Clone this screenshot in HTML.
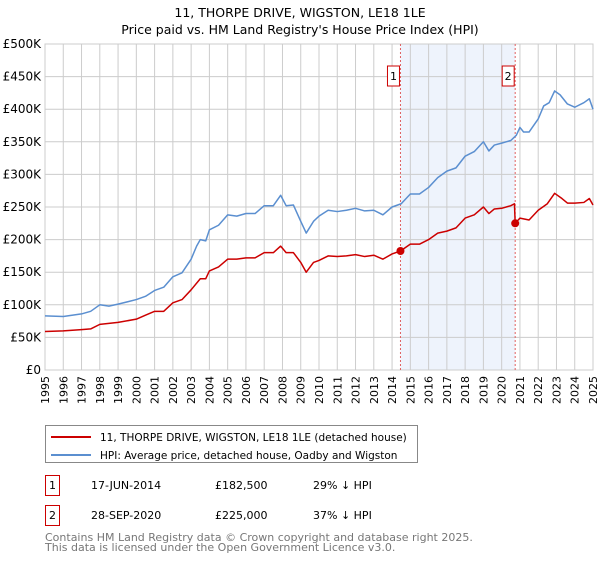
<!DOCTYPE html>
<html><head><meta charset="utf-8"><style>
body{margin:0;background:#fff;font-family:"Liberation Sans","DejaVu Sans",sans-serif}
svg text{font-family:"DejaVu Sans","Liberation Sans",sans-serif}
</style></head><body>
<svg id="c" width="600" height="560" xmlns="http://www.w3.org/2000/svg">
<text x="300" y="17" font-size="12.5" text-anchor="middle">11, THORPE DRIVE, WIGSTON, LE18 1LE</text>
<text x="300" y="34" font-size="12.5" text-anchor="middle">Price paid vs. HM Land Registry's House Price Index (HPI)</text>
<g id="plot"></g>
<g>
<rect x="45.5" y="425.5" width="372" height="37" fill="#fff" stroke="#888"/>
<line x1="51" y1="437" x2="91" y2="437" stroke="#cc0000" stroke-width="2"/>
<text x="100" y="441" font-size="10.5">11, THORPE DRIVE, WIGSTON, LE18 1LE (detached house)</text>
<line x1="51" y1="455" x2="91" y2="455" stroke="#5b8fd0" stroke-width="2"/>
<text x="100" y="459" font-size="10.5">HPI: Average price, detached house, Oadby and Wigston</text>
</g>
<g font-size="11">
<rect x="45.5" y="475.5" width="14" height="20" fill="#fff" stroke="#cc0000"/>
<text x="52.5" y="489" text-anchor="middle">1</text>
<text x="91" y="489">17-JUN-2014</text><text x="215" y="489">£182,500</text><text x="313" y="489">29% ↓ HPI</text>
<rect x="45.5" y="505.5" width="14" height="20" fill="#fff" stroke="#cc0000"/>
<text x="52.5" y="519" text-anchor="middle">2</text>
<text x="91" y="519">28-SEP-2020</text><text x="215" y="519">£225,000</text><text x="313" y="519">37% ↓ HPI</text>
</g>
<text x="45" y="541" font-size="11" fill="#777">Contains HM Land Registry data © Crown copyright and database right 2025.</text>
<text x="45" y="551" font-size="11" fill="#777">This data is licensed under the Open Government Licence v3.0.</text>
</svg>
<script>
const hpiYears=[1995,1996,1997,1997.5,1998,1998.5,1999,2000,2000.5,2001,2001.5,2002,2002.5,2003,2003.3,2003.5,2003.8,2004,2004.5,2005,2005.5,2006,2006.5,2007,2007.5,2007.9,2008.2,2008.6,2009,2009.3,2009.7,2010,2010.5,2011,2011.5,2012,2012.5,2013,2013.5,2014,2014.5,2015,2015.5,2016,2016.5,2017,2017.5,2018,2018.5,2019,2019.3,2019.6,2020,2020.5,2020.8,2021,2021.2,2021.5,2022,2022.3,2022.6,2022.9,2023.2,2023.6,2024,2024.5,2024.8,2025];
const hpiValues=[83,82,86,90,100,98,101,108,113,122,127,143,149,170,190,200,198,215,222,238,236,240,240,252,252,268,252,253,228,210,228,236,245,243,245,248,244,245,238,250,255,270,270,280,295,305,310,328,335,350,336,345,348,352,360,372,365,365,385,405,410,428,422,408,403,410,416,400];
const priceYears=[1995,1996,1997,1997.5,1998,1999,2000,2000.5,2001,2001.5,2002,2002.5,2003,2003.5,2003.8,2004,2004.5,2005,2005.5,2006,2006.5,2007,2007.5,2007.9,2008.2,2008.6,2009,2009.3,2009.7,2010,2010.5,2011,2011.5,2012,2012.5,2013,2013.5,2014,2014.46,2015,2015.5,2016,2016.5,2017,2017.5,2018,2018.5,2019,2019.3,2019.6,2020,2020.5,2020.7,2020.74,2021,2021.5,2022,2022.5,2022.9,2023.3,2023.6,2024,2024.5,2024.8,2025];
const priceValues=[59,60,62,63,70,73,78,84,90,90,103,108,123,140,140,152,158,170,170,172,172,180,180,190,180,180,165,150,165,168,175,174,175,177,174,176,170,178,182.5,193,193,200,210,213,218,233,238,250,240,247,248,252,255,225,233,230,245,255,271,263,256,256,257,263,253];
const saleYears=[2014.46,2020.74];
const saleValues=[182.5,225];
const saleLabels=["1","2"];
const yTicks=[0,50,100,150,200,250,300,350,400,450,500];
const yTickLabels=["£0","£50K","£100K","£150K","£200K","£250K","£300K","£350K","£400K","£450K","£500K"];
const xTicks=[1995,1996,1997,1998,1999,2000,2001,2002,2003,2004,2005,2006,2007,2008,2009,2010,2011,2012,2013,2014,2015,2016,2017,2018,2019,2020,2021,2022,2023,2024,2025];

const X0=45,X1=593,Y0=370,Y1=44;
const xs=y=>X0+(y-1995)/30*(X1-X0);
const ys=v=>Y0-v/500*(Y0-Y1);
const NS="http://www.w3.org/2000/svg";
const g=document.getElementById('plot');
function mk(t,a,p){const e=document.createElementNS(NS,t);for(const k in a)e.setAttribute(k,a[k]);(p||g).appendChild(e);return e;}
const sh=mk('rect',{x:xs(saleYears[0]),y:Y1,width:xs(saleYears[1])-xs(saleYears[0]),height:Y0-Y1,fill:'#eef3fc'});


xTicks.forEach(t=>{
  const l=mk('line',{x1:xs(t),x2:xs(t),y1:Y1,y2:Y0,stroke:'#ccc'});
  
  
  const tx=mk('text',{x:0,y:0,'font-size':11,'text-anchor':'end',transform:`translate(${xs(t)+4},${Y0+6}) rotate(-90)`});
  tx.textContent=t;
  
  
});
yTicks.forEach((t,i)=>{
  const l=mk('line',{x1:X0,x2:X1,y1:ys(t),y2:ys(t),stroke:'#ccc'});
  
  
  const tx=mk('text',{x:X0-4,y:ys(t)+4,'font-size':12,'text-anchor':'end'});
  tx.textContent=yTickLabels[i];
  
  
});
const fr=mk('rect',{x:X0,y:Y1,width:X1-X0,height:Y0-Y1,fill:'none',stroke:'#ccc'});


saleYears.forEach((y,i)=>{
  const l=mk('line',{x1:xs(y),x2:xs(y),y1:Y1,y2:Y0,stroke:'#e06060','stroke-dasharray':'2,2'});
  
  
  const b=mk('rect',{x:xs(y)-13,y:66,width:12,height:20,fill:'#fff',stroke:'#cc0000'});
  
  
  const t=mk('text',{x:xs(y)-7,y:80,'font-size':11,'text-anchor':'middle'});
  t.textContent=saleLabels[i];
  
  
});
function line(xa,va,col,name){
  const p=mk('polyline',{points:xa.map((x,i)=>xs(x)+','+ys(va[i])).join(' '),fill:'none',stroke:col,'stroke-width':1.5,'stroke-linejoin':'round'});
  
  
}
line(hpiYears,hpiValues,'#5b8fd0','hpi-line');
line(priceYears,priceValues,'#cc0000','price-line');
saleYears.forEach((y,i)=>{
  const c=mk('circle',{cx:xs(y),cy:ys(saleValues[i]),r:4,fill:'#cc0000'});
  
  
});
</script>
</body></html>
